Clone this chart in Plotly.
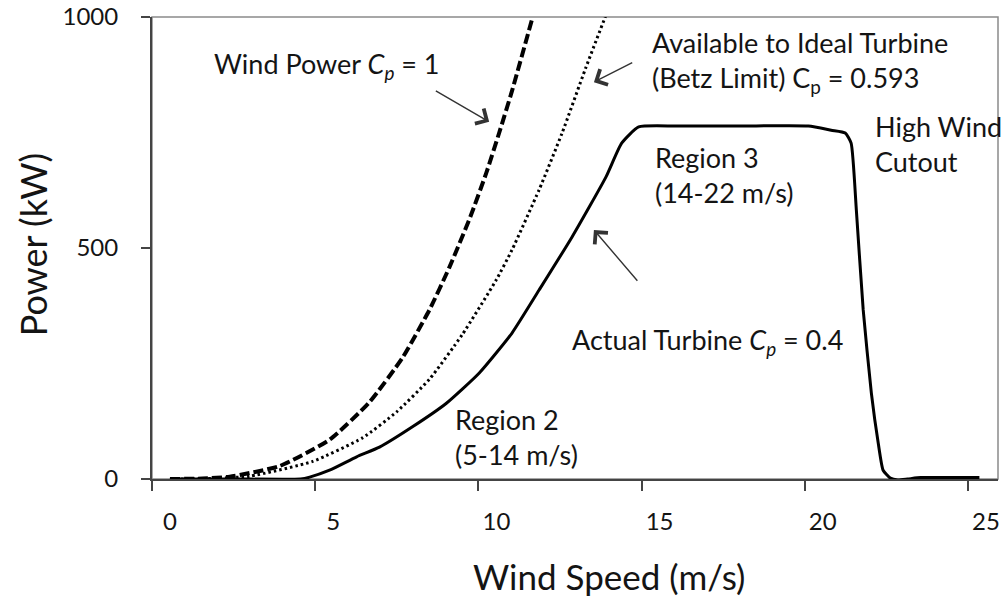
import plotly.graph_objects as go

# Wind power available in the wind (Cp = 1)
wind_speed_cp1 = [0, 1, 1.83, 3.36, 4.89, 6.11, 7.12, 7.95, 8.56, 9.2, 9.69, 10.09, 10.48, 11.09]
power_cp1 = [0, 1, 5, 28, 85, 166, 262, 366, 458, 567, 662, 750, 840, 994]

# Power available to an ideal turbine (Betz limit, Cp = 0.593)
wind_speed_betz = [0, 1, 2.44, 4.37, 5.9, 6.94, 7.95, 8.95, 9.99, 10.48, 11.31, 12.01, 12.74, 13.39]
power_betz = [0, 0.5, 6, 38, 89, 145, 216, 312, 430, 496, 626, 748, 890, 1010]

# Actual turbine power curve (Cp = 0.4)
wind_speed_actual = [0, 2, 4.0, 4.28, 4.89, 5.72, 6.42, 7.43, 8.47, 9.47, 10.48, 11.31, 12.32,
                     13.36, 13.84, 14.36, 15.5, 17.5, 19.56, 20.26, 20.69, 20.87, 21.03,
                     21.24, 21.49, 21.70, 21.85, 22.07, 22.3, 22.6, 23.0, 24.8]
power_actual = [0, 0, 0, 4, 19, 48, 69, 113, 164, 229, 316, 409, 524,
                654, 727, 762, 764, 764, 764, 755, 749, 727, 582,
                366, 186, 78, 19, 2, -2, 0, 3, 3]

x_tick_values = [0, 5, 10, 15, 20, 25]
y_tick_values = [0, 500, 1000]

FONT = "Lato"
TEXT = "#141414"
x_min, x_max = -0.55, 25.37
tick_offset = -0.55  # tick marks sit left of their labels

fig = go.Figure()
fig.add_trace(go.Scatter(x=wind_speed_cp1, y=power_cp1, mode="lines",
                         line=dict(color="black", width=4, dash="10px,4px", shape="spline", smoothing=0.5),
                         hoverinfo="skip"))
fig.add_trace(go.Scatter(x=wind_speed_betz, y=power_betz, mode="lines",
                         line=dict(color="black", width=3, dash="2.5px,3px", shape="spline", smoothing=0.5),
                         hoverinfo="skip"))
fig.add_trace(go.Scatter(x=wind_speed_actual, y=power_actual, mode="lines",
                         line=dict(color="black", width=3, shape="spline", smoothing=0.5),
                         hoverinfo="skip"))

# gray frame on top and right
fig.add_shape(type="rect", xref="paper", yref="paper", x0=0, x1=1, y0=0, y1=1,
              line=dict(color="#8a8a8a", width=1.5), layer="below")

labels = [
    (1.3, 896, "Wind Power <i>C<sub>p</sub></i> = 1"),
    (14.7, 902, "Available to Ideal Turbine<br>(Betz Limit) C<sub>p</sub> = 0.593"),
    (21.55, 726, "High Wind<br>Cutout"),
    (14.8, 658, "Region 3<br>(14-22 m/s)"),
    (12.25, 297, "Actual Turbine <i>C<sub>p</sub></i> = 0.4"),
    (8.68, 92, "Region 2<br>(5-14 m/s)"),
]
for lx, ly, txt in labels:
    fig.add_annotation(x=lx, y=ly, text=txt, showarrow=False, xanchor="left", yanchor="middle",
                       align="left", font=dict(family=FONT, size=27, color=TEXT))

arrows = [
    ((8.10, 842), (9.78, 773)),
    ((14.21, 903), (12.99, 859)),
    ((14.36, 426), (12.99, 539)),
]
for (tx, ty), (hx, hy) in arrows:
    fig.add_annotation(x=hx, y=hy, ax=tx, ay=ty, xref="x", yref="y", axref="x", ayref="y",
                       text="", showarrow=True, arrowhead=4, arrowsize=2.4, arrowwidth=1.4,
                       arrowcolor="#333", standoff=0)

# axis titles
fig.add_annotation(xref="paper", yref="paper", x=(610 - 152) / 848, y=-(576 - 479) / 462,
                   text="Wind Speed (m/s)", showarrow=False, xanchor="center", yanchor="middle",
                   font=dict(family=FONT, size=35, color=TEXT))
fig.add_annotation(xref="paper", yref="paper", x=-(152 - 33) / 848, y=(479 - 245) / 462,
                   text="Power (kW)", showarrow=False, textangle=-90, xanchor="center", yanchor="middle",
                   font=dict(family=FONT, size=36, color=TEXT))

fig.update_layout(
    width=1001, height=598,
    margin=dict(l=152, r=1, t=17, b=119),
    paper_bgcolor="white", plot_bgcolor="white",
    showlegend=False,
    xaxis=dict(range=[x_min, x_max], showgrid=False, zeroline=False,
               showline=True, linecolor="#444", linewidth=2,
               tickmode="array", tickvals=[v + tick_offset for v in x_tick_values],
               ticktext=[str(v) for v in x_tick_values], ticklabelshift=18, ticklabelstandoff=10,
               ticklabeloverflow="allow",
               ticks="outside", ticklen=10, tickwidth=2, tickcolor="#444",
               tickfont=dict(family=FONT, size=24, color=TEXT)),
    yaxis=dict(range=[0, 1000], showgrid=False, zeroline=False,
               showline=True, linecolor="#444", linewidth=2,
               tickmode="array", tickvals=y_tick_values, ticktext=[str(v) for v in y_tick_values],
               ticks="outside", ticklen=9, tickwidth=2, tickcolor="#444", ticklabelstandoff=18,
               tickfont=dict(family=FONT, size=24, color=TEXT)),
)

fig.write_html("out.html")
